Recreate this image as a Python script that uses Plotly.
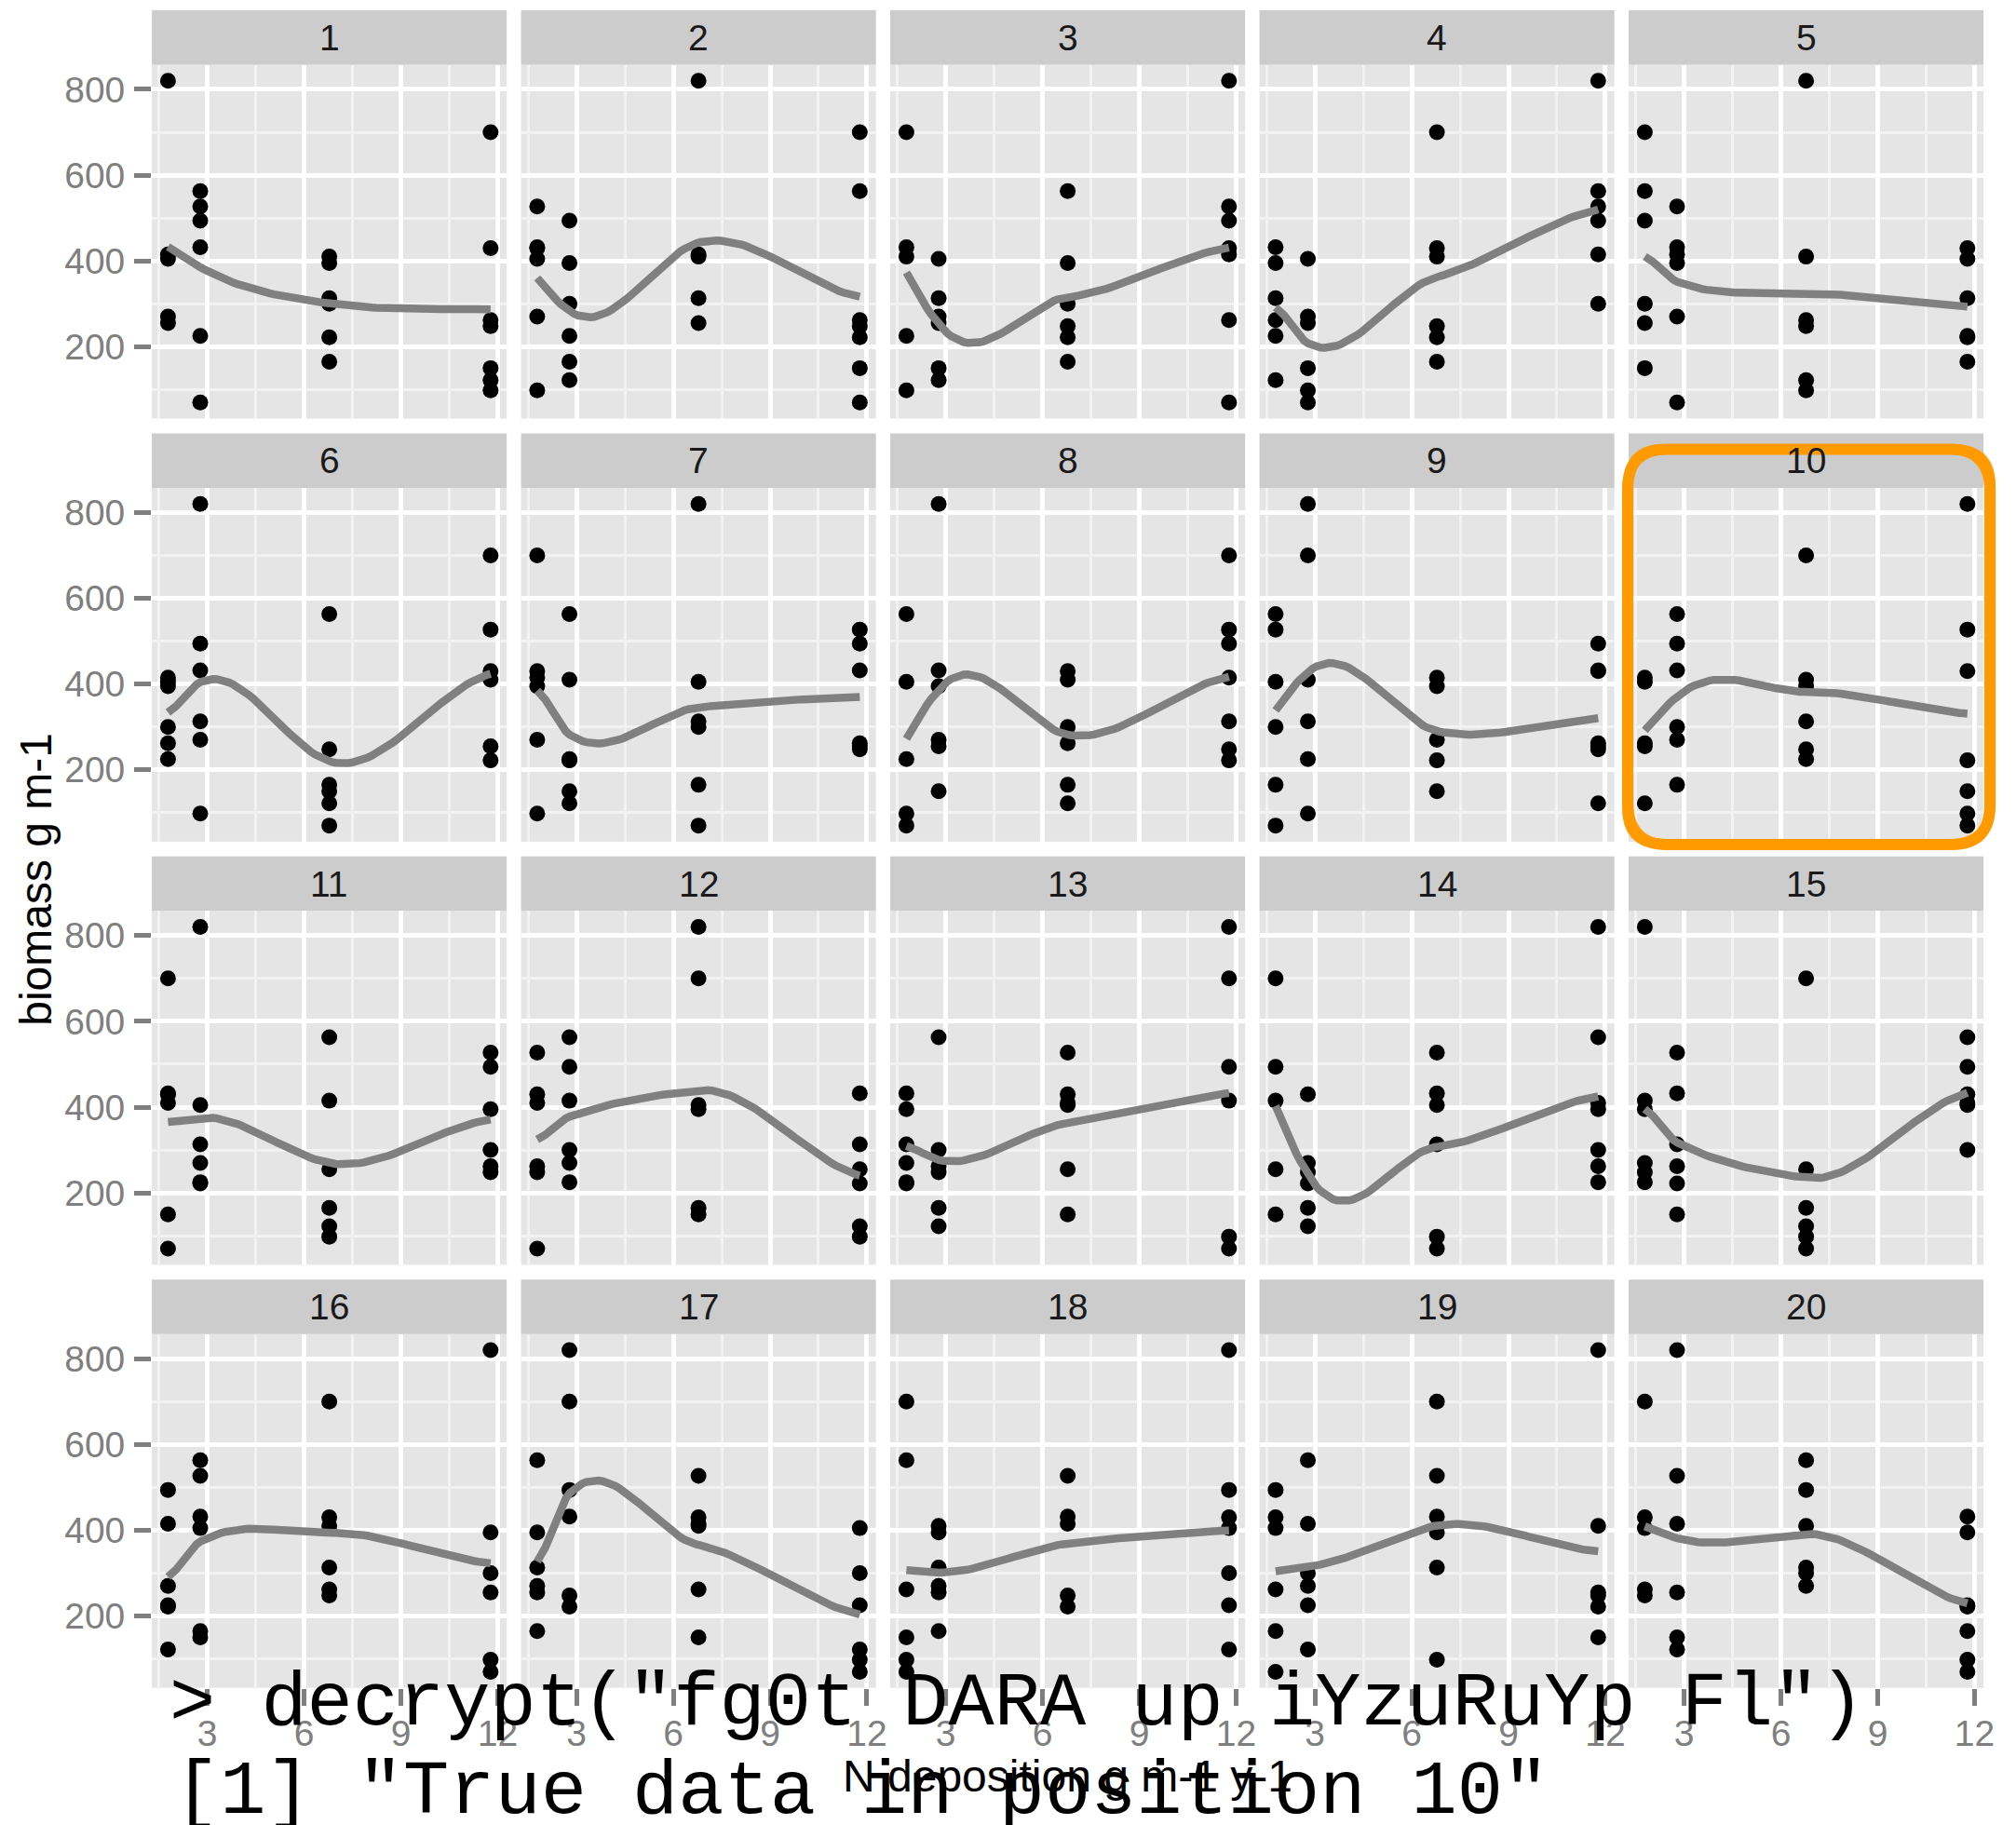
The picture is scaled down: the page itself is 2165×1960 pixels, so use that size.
import numpy as np
import plotly.graph_objects as go

# ---------------- data ----------------
n_deposition = [1.78, 2.78, 6.78, 11.78]          # x levels (N deposition)
panel_labels = [str(i) for i in range(1, 21)]
x_ticks = [3, 6, 9, 12]
y_ticks = [200, 400, 600, 800]
x_title = "N deposition g m-1 y-1"
y_title = "biomass g m-1"
cmd_line = '> decrypt("fg0t DARA up iYzuRuYp Fl")'
out_line = '[1] "True data in position 10"'
true_panel = 10

# biomass values per panel, one list per N-deposition level
panel_01 = [[820, 415, 405, 270, 255], [563, 527, 494, 432, 225, 70], [410, 395, 313, 300, 222, 165], [700, 430, 262, 248, 150, 122, 98]]
panel_02 = [[527, 432, 430, 405, 270, 98], [494, 395, 300, 225, 165, 122], [820, 415, 410, 313, 255], [700, 563, 262, 248, 222, 150, 70]]
panel_03 = [[700, 432, 410, 225, 98], [405, 313, 270, 255, 150, 122], [563, 395, 300, 248, 222, 165], [820, 527, 494, 430, 415, 262, 70]]
panel_04 = [[432, 395, 313, 262, 225, 122], [405, 270, 255, 150, 98, 70], [700, 430, 410, 248, 222, 165], [820, 563, 527, 494, 415, 300]]
panel_05 = [[700, 563, 494, 300, 255, 150], [527, 432, 415, 395, 270, 70], [820, 410, 262, 248, 122, 98], [430, 405, 313, 225, 222, 165]]
panel_06 = [[415, 405, 395, 300, 262, 225], [820, 494, 432, 313, 270, 98], [563, 248, 165, 150, 122, 70], [700, 527, 430, 410, 255, 222]]
panel_07 = [[700, 430, 415, 395, 270, 98], [563, 410, 225, 222, 150, 122], [820, 405, 313, 300, 165, 70], [527, 494, 432, 262, 255, 248]]
panel_08 = [[563, 405, 225, 98, 70], [820, 432, 395, 270, 255, 150], [430, 410, 300, 262, 165, 122], [700, 527, 494, 415, 313, 248, 222]]
panel_09 = [[563, 527, 405, 300, 165, 70], [820, 700, 410, 313, 225, 98], [415, 395, 270, 222, 150], [494, 432, 430, 262, 255, 248, 122]]
panel_10 = [[415, 405, 262, 255, 122], [563, 494, 432, 300, 270, 165], [700, 410, 395, 313, 248, 225], [820, 527, 430, 222, 150, 98, 70]]
panel_11 = [[700, 432, 430, 410, 150, 70], [820, 405, 313, 270, 225, 222], [563, 415, 255, 165, 122, 98], [527, 494, 395, 300, 262, 248]]
panel_12 = [[527, 430, 410, 262, 248, 70], [563, 494, 415, 300, 270, 225], [820, 700, 405, 395, 165, 150], [432, 313, 255, 222, 122, 98]]
panel_13 = [[432, 395, 313, 270, 225, 222], [563, 300, 262, 248, 165, 122], [527, 430, 410, 405, 255, 150], [820, 700, 494, 415, 98, 70]]
panel_14 = [[700, 494, 415, 255, 150], [430, 270, 248, 222, 165, 122], [527, 432, 405, 313, 98, 70], [820, 563, 410, 395, 300, 262, 225]]
panel_15 = [[820, 415, 395, 270, 248, 225], [527, 432, 313, 262, 222, 150], [700, 255, 165, 122, 98, 70], [563, 494, 430, 410, 405, 300]]
panel_16 = [[494, 415, 270, 225, 222, 122], [563, 527, 432, 405, 165, 150], [700, 430, 410, 313, 262, 248], [820, 395, 300, 255, 98, 70]]
panel_17 = [[563, 395, 313, 270, 255, 165], [820, 700, 494, 432, 248, 222], [527, 430, 415, 410, 262, 150], [405, 300, 225, 122, 98, 70]]
panel_18 = [[700, 563, 262, 150, 98, 70], [410, 395, 313, 270, 255, 165], [527, 432, 415, 248, 222], [820, 494, 430, 405, 300, 225, 122]]
panel_19 = [[494, 430, 405, 262, 165, 70], [563, 415, 300, 270, 225, 122], [700, 527, 432, 395, 313, 98], [820, 410, 255, 248, 222, 150]]
panel_20 = [[700, 430, 405, 262, 248], [820, 527, 415, 255, 150, 122], [563, 494, 410, 313, 300, 270], [432, 395, 225, 222, 165, 98, 70]]

panels = [panel_01, panel_02, panel_03, panel_04, panel_05, panel_06, panel_07,
          panel_08, panel_09, panel_10, panel_11, panel_12, panel_13, panel_14,
          panel_15, panel_16, panel_17, panel_18, panel_19, panel_20]

# ---------------- loess (degree 2, span 0.75, kd-vertex + cubic Hermite) ----------------
def _local_fit(x, y, x0, q):
    u = x - x0
    d = np.abs(u)
    rho = np.sort(d)[q - 1]
    w = np.where(d < rho, (1 - (d / rho) ** 3) ** 3, 0.0)
    sw = np.sqrt(w)
    X = np.column_stack([np.ones_like(u), u, u ** 2]) * sw[:, None]
    Y = y * sw
    nrm = np.linalg.norm(X, axis=0)
    nrm[nrm == 0] = 1.0
    Xs = X / nrm
    U, S, Vt = np.linalg.svd(Xs, full_matrices=False)
    tol = S[0] * 100 * np.finfo(float).eps
    sinv = np.where(S > tol, 1.0 / np.where(S > 0, S, 1), 0.0)
    c = Vt.T @ (sinv * (U.T @ Y))
    b = c / nrm
    return b[0], b[1]


def loess_curve(x, y, npts=80, span=0.75):
    x = np.asarray(x, float)
    y = np.asarray(y, float)
    q = int(np.floor(len(x) * span))
    verts = np.unique(x)
    vals, slopes = zip(*[_local_fit(x, y, v, q) for v in verts])
    grid = np.linspace(x.min(), x.max(), npts)
    out = np.empty_like(grid)
    for k, g in enumerate(grid):
        i = min(np.searchsorted(verts, g, side="right") - 1, len(verts) - 2)
        h = verts[i + 1] - verts[i]
        t = (g - verts[i]) / h
        h00 = 2 * t ** 3 - 3 * t ** 2 + 1
        h10 = t ** 3 - 2 * t ** 2 + t
        h01 = -2 * t ** 3 + 3 * t ** 2
        h11 = t ** 3 - t ** 2
        out[k] = (h00 * vals[i] + h10 * h * slopes[i]
                  + h01 * vals[i + 1] + h11 * h * slopes[i + 1])
    return grid, out

# ---------------- geometry ----------------
W, H = 2165, 1960
LEFT0, PW, HGAP = 164.0, 383.2, 15.5
TOP0, STRIP_H, PH, ROW_STEP = 11.0, 58.5, 380.0, 454.4
NCOL = 5

all_y = np.concatenate([np.concatenate(p) for p in panels])
ylo, yhi = all_y.min(), all_y.max()
yr = [ylo - 0.05 * (yhi - ylo), yhi + 0.05 * (yhi - ylo)]
xlo, xhi = min(n_deposition), max(n_deposition)
xr = [xlo - 0.05 * (xhi - xlo), xhi + 0.05 * (xhi - xlo)]

GREY_TXT = "#7F7F7F"
SANS = "Liberation Sans, Arial, sans-serif"

fig = go.Figure()
shapes, annotations = [], []
layout_axes = {}

for i, data in enumerate(panels):
    r, c = divmod(i, NCOL)
    k = i + 1
    xs, ys = [], []
    for xv, col in zip(n_deposition, data):
        xs += [xv] * len(col)
        ys += list(col)
    xa = "x" if k == 1 else f"x{k}"
    ya = "y" if k == 1 else f"y{k}"

    fig.add_trace(go.Scatter(x=xs, y=ys, mode="markers", xaxis=xa, yaxis=ya,
                             marker=dict(color="black", size=17, line=dict(width=0)),
                             showlegend=False, hoverinfo="skip"))
    gx, gy = loess_curve(xs, ys)
    fig.add_trace(go.Scatter(x=gx, y=gy, mode="lines", xaxis=xa, yaxis=ya,
                             line=dict(color="#808080", width=8.5),
                             showlegend=False, hoverinfo="skip"))

    px0 = LEFT0 + c * (PW + HGAP)
    px1 = px0 + PW
    ptop = TOP0 + r * ROW_STEP + STRIP_H
    pbot = ptop + PH
    bottom_row = (r == 3)
    left_col = (c == 0)

    layout_axes["xaxis" if k == 1 else f"xaxis{k}"] = dict(
        domain=[px0 / W, px1 / W], range=xr, anchor=ya,
        tickmode="array", tickvals=x_ticks, showticklabels=bottom_row,
        ticks="outside" if bottom_row else "", ticklen=18, tickwidth=4.5, tickcolor=GREY_TXT,
        tickfont=dict(size=39, color=GREY_TXT, family=SANS), ticklabelstandoff=-4,
        showgrid=True, gridcolor="white", gridwidth=4.5, zeroline=False, showline=False,
        minor=dict(tickmode="array", tickvals=[1.5, 4.5, 7.5, 10.5], showgrid=True,
                   gridcolor="#F2F2F2", gridwidth=2.5, ticks=""),
        fixedrange=True)
    layout_axes["yaxis" if k == 1 else f"yaxis{k}"] = dict(
        domain=[1 - pbot / H, 1 - ptop / H], range=yr, anchor=xa,
        tickmode="array", tickvals=y_ticks, showticklabels=left_col,
        ticks="outside" if left_col else "", ticklen=18, tickwidth=4.5, tickcolor=GREY_TXT,
        tickfont=dict(size=39, color=GREY_TXT, family=SANS), ticklabelstandoff=2,
        showgrid=True, gridcolor="white", gridwidth=4.5, zeroline=False, showline=False,
        minor=dict(tickmode="array", tickvals=[100, 300, 500, 700], showgrid=True,
                   gridcolor="#F2F2F2", gridwidth=2.5, ticks=""),
        fixedrange=True)

    # facet strip
    stop = ptop - STRIP_H
    shapes.append(dict(type="rect", xref="paper", yref="paper",
                       x0=px0 / W, x1=px1 / W, y0=1 - ptop / H, y1=1 - stop / H,
                       fillcolor="#CCCCCC", line=dict(width=0), layer="below"))
    annotations.append(dict(text=panel_labels[i], xref="paper", yref="paper",
                            x=(px0 + px1) / 2 / W, y=1 - (stop + STRIP_H / 2) / H,
                            xanchor="center", yanchor="middle", showarrow=False,
                            font=dict(size=39, color="#1A1A1A", family=SANS)))

# axis titles
annotations.append(dict(text=x_title, xref="paper", yref="paper",
                        x=1153 / W, y=1 - 1907 / H, xanchor="center", yanchor="middle",
                        showarrow=False, font=dict(size=48, color="black", family=SANS)))
annotations.append(dict(text=y_title, xref="paper", yref="paper",
                        x=38 / W, y=1 - 944 / H, xanchor="center", yanchor="middle",
                        textangle=-90, showarrow=False,
                        font=dict(size=48, color="black", family=SANS)))

# hand-drawn orange highlight round the true-data panel
def rounded_path(x0, y0, x1, y1, rad):
    pts = [("M", [(x0 + rad, y0)]), ("L", [(x1 - rad, y0)]), ("Q", [(x1, y0), (x1, y0 + rad)]),
           ("L", [(x1, y1 - rad)]), ("Q", [(x1, y1), (x1 - rad, y1)]),
           ("L", [(x0 + rad, y1)]), ("Q", [(x0, y1), (x0, y1 - rad)]),
           ("L", [(x0, y0 + rad)]), ("Q", [(x0, y0), (x0 + rad, y0)])]
    s = ""
    for cmd, coords in pts:
        s += cmd + " " + " ".join(f"{px / W:.5f},{1 - py / H:.5f}" for px, py in coords) + " "
    return s + "Z"

tr, tc = divmod(true_panel - 1, NCOL)
bx0 = LEFT0 + tc * (PW + HGAP) - 1
bx1 = bx0 + PW + 8
by0 = TOP0 + tr * ROW_STEP + 17
by1 = TOP0 + tr * ROW_STEP + STRIP_H + PH + 3
strokes = [(0, 0, 12, 1.0), (-4, 3, 4, 0.8), (4, -3, 4, 0.8), (2, 4, 3, 0.65), (-3, -4, 3, 0.65)]
for dx, dy, wdt, op in strokes:
    shapes.append(dict(type="path", xref="paper", yref="paper", layer="above",
                       path=rounded_path(bx0 + dx, by0 + dy, bx1 + dx, by1 + dy, 42),
                       line=dict(color="#FF9A00", width=wdt), opacity=op))

# console overlay text
MONO = "Liberation Mono, Courier New, monospace"
annotations.append(dict(text=cmd_line, xref="paper", yref="paper",
                        x=181 / W, y=1 - 1830 / H, xanchor="left", yanchor="middle",
                        showarrow=False, font=dict(size=82, color="black", family=MONO)))
annotations.append(dict(text=out_line, xref="paper", yref="paper",
                        x=186 / W, y=1 - 1925 / H, xanchor="left", yanchor="middle",
                        showarrow=False, font=dict(size=82, color="black", family=MONO)))

fig.update_layout(width=W, height=H, autosize=False,
                  margin=dict(l=0, r=0, t=0, b=0),
                  paper_bgcolor="white", plot_bgcolor="#E5E5E5",
                  shapes=shapes, annotations=annotations, showlegend=False,
                  **layout_axes)

fig.write_html("out.html")
